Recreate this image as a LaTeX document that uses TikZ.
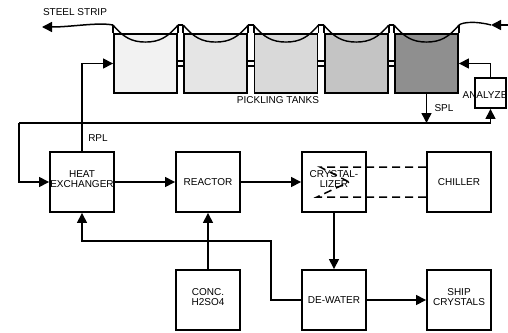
\documentclass[tikz,border=0pt]{standalone}
\usepackage{fontspec}
\setmainfont{Liberation Sans}
\usetikzlibrary{arrows.meta}

\begin{document}
\begin{tikzpicture}[x=1pt, y=-1pt,
        font=\fontsize{10}{10}\selectfont,
        unit/.style={draw, line width=1.9pt, fill=white, minimum width=64pt, minimum height=60pt, inner sep=0pt, align=center},
        tank/.style={draw, line width=1.9pt, minimum width=63pt, minimum height=59pt, inner sep=0pt},
        wall/.style={line width=1.9pt},
        pipe/.style={line width=1.4pt},
        flow/.style={line width=1.5pt, -{Triangle[length=10pt,width=10pt]}},
        chill/.style={line width=1.5pt, dash pattern=on 8pt off 5pt},
        tag/.style={inner sep=0pt}]
        \useasboundingbox (0,0) rectangle (508,332);

        % Pickling tanks
        \foreach \k/\shade in {1/5,2/10,3/15,4/23,5/44}
            \node[tank, fill=black!\shade] (t\k) at ({75.25+70.25*\k},63.5) {};
        \foreach \k in {1,...,5} {
            \draw[wall] (t\k.north west) -- ([yshift=8pt]t\k.north west);
            \draw[wall] (t\k.north east) -- ([yshift=8pt]t\k.north east);
            \draw[pipe] ([yshift=8pt]t\k.north west) .. controls +(10,12) and +(-14,0) .. ([yshift=-9pt]t\k.north)
                .. controls +(14,0) and +(-10,12) .. ([yshift=8pt]t\k.north east);
        }
        \foreach \k in {1,...,4} {
            \pgfmathtruncatemacro\n{\k+1}
            \draw[wall] ([yshift=8pt]t\k.north east) -- ([yshift=8pt]t\n.north west);
            \draw[pipe] ([yshift=2.5pt]t\k.east) -- ([yshift=2.5pt]t\n.west);
            \draw[pipe] ([yshift=-2.5pt]t\k.east) -- ([yshift=-2.5pt]t\n.west);
        }
        \node[tag] (tanklabel) at (278,100) {PICKLING TANKS};

        % Steel strip
        \coordinate (stripout) at (42,27);
        \coordinate (stripin) at (508,25);
        \coordinate (feed) at (491,25);
        \node[tag] (striplabel) at (75,12) {STEEL STRIP};
        \draw[flow] ([yshift=8pt]t1.north west) .. controls +(-15,-3) and +(30,0) .. (stripout);
        \draw[flow] (stripin) -- (feed);
        \draw[pipe] (feed) .. controls (476,21) and (463,22) .. ([yshift=8pt]t5.north east);

        % Process units
        \node[unit] (hx) at (82,182) {HEAT\\EXCHANGER\\[-4pt]\mbox{}};
        \node[unit] (reactor) at (208,182) {REACTOR};
        \node[unit] (cryst) at (334,182) {CRYSTAL-\\LIZER\\[-4pt]\mbox{}};
        \node[unit] (chiller) at (459,182) {CHILLER};
        \node[unit] (acid) at (208,300) {CONC.\\H2SO4\\[-4pt]\mbox{}};
        \node[unit] (dewater) at (334,300) {DE-WATER};
        \node[unit] (ship) at (459,300) {SHIP\\CRYSTALS\\[-4pt]\mbox{}};
        \node[unit, minimum width=31pt, minimum height=30pt] (analyzer) at (490.5,93) {};
        \node[tag] (anlabel) at (485,95) {ANALYZE};

        % Spent and regenerated liquor
        \coordinate (ret) at (19,123);
        \draw[flow] (t5.south) -- (t5.south |- ret);
        \node[tag] (spl) at (444,108) {SPL};
        \draw[flow] (ret) -- (ret |- hx.west) -- (hx.west);
        \draw[flow] (ret) -- (ret -| analyzer.south) -- (analyzer.south);
        \draw[flow] (analyzer.north) |- (t5.east);
        \draw[flow] (hx.north) |- (t1.west);
        \node[tag] (rpl) at (98,138) {RPL};

        % Main flow
        \draw[flow] (hx) -- (reactor);
        \draw[flow] (reactor) -- (cryst);
        \draw[flow] (cryst) -- (dewater);
        \draw[flow] (dewater) -- (ship);
        \draw[flow] (acid) -- (reactor);
        \coordinate (bend) at (271,241);
        \draw[flow] (dewater.west) -| (bend) -| (hx.south);

        % Chiller loop
        \coordinate (c1) at (320,167);
        \coordinate (c2) at (317,197);
        \coordinate (c3) at (349,182);
        \draw[chill] ([yshift=15pt]chiller.west) -- (c1) -- (c3);
        \draw[chill] ([yshift=-15pt]chiller.west) -- (c2) -- (c3);
    \end{tikzpicture}
\end{document}
